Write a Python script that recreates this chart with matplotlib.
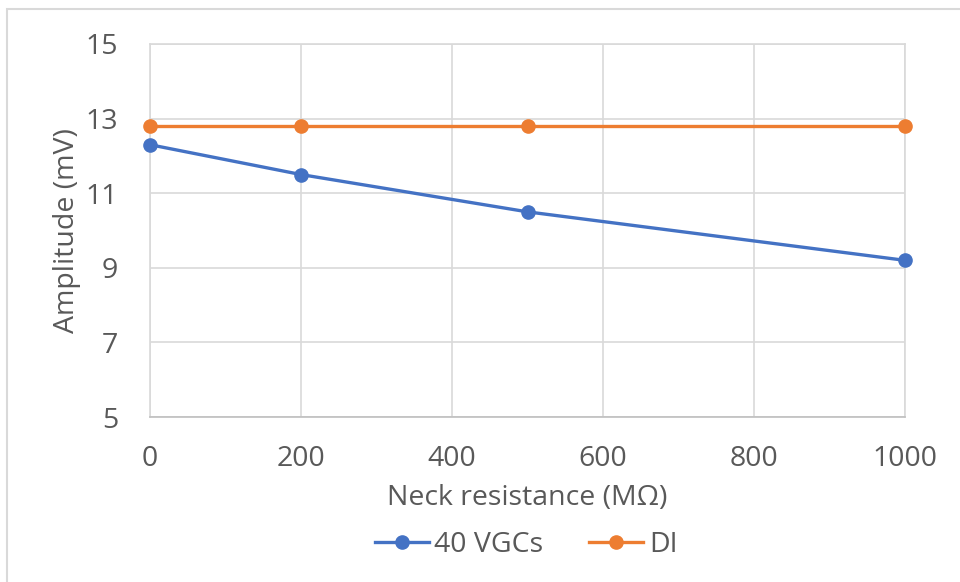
import matplotlib
matplotlib.use("Agg")
import matplotlib.pyplot as plt
from matplotlib.patches import Rectangle

x_vals = [0, 200, 500, 1000]
vgc_vals = [12.3, 11.5, 10.5, 9.2]
di_vals = [12.8, 12.8, 12.8, 12.8]
x_ticks = [0, 200, 400, 600, 800, 1000]
y_ticks = [5, 7, 9, 11, 13, 15]

plt.rcParams['font.family'] = ['Open Sans', 'DejaVu Sans']
text_color = '#595959'
grid_color = '#d9d9d9'
fs = 20.5

fig = plt.figure(figsize=(9.6, 5.82), dpi=100)
ax = fig.add_axes([150/960, 1-417/582, (905-150)/960, (417-44)/582])

ax.plot(x_vals, vgc_vals, color='#4472C4', lw=2.4, marker='o', ms=9.5, label='40 VGCs', zorder=3, clip_on=False)
ax.plot(x_vals, di_vals, color='#ED7D31', lw=2.4, marker='o', ms=9.5, label='DI', zorder=3, clip_on=False)

ax.set_xlim(0, 1000)
ax.set_ylim(5, 15)
ax.set_xticks(x_ticks)
ax.set_yticks(y_ticks)
ax.grid(True, color=grid_color, lw=1.2)
for s in ax.spines.values():
    s.set_color(grid_color)
    s.set_linewidth(1.2)
ax.spines['bottom'].set_color('#bfbfbf')
ax.tick_params(length=0, labelsize=fs, colors=text_color)
ax.tick_params(axis='x', pad=20)
ax.tick_params(axis='y', pad=23)
ax.set_xlabel('Neck resistance (MΩ)', fontsize=fs, color=text_color, labelpad=8)
ax.set_ylabel('Amplitude (mV)', fontsize=fs, color=text_color, labelpad=3)

leg = fig.legend(loc='center', bbox_to_anchor=(526/960, 1-545/582), ncol=2, frameon=False,
                 fontsize=fs, handlelength=1.9, columnspacing=1.6, handletextpad=0.2)
for t in leg.get_texts():
    t.set_color(text_color)

fig.patches.append(Rectangle((7/960, -0.1), 1.2, 1-9/582+0.1, transform=fig.transFigure,
                             fill=False, edgecolor=grid_color, lw=1.5))

fig.savefig('out.png', dpi=100)
